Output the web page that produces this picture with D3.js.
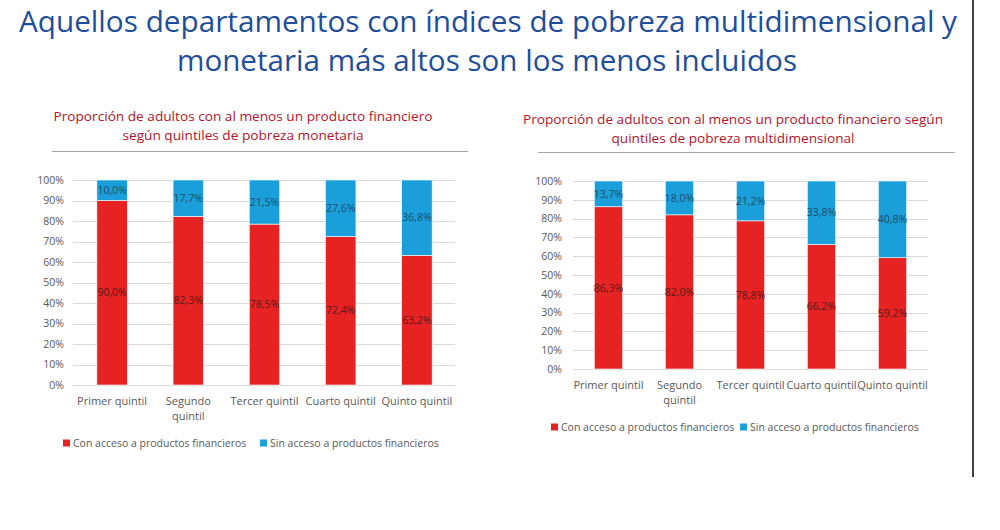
<!DOCTYPE html>
<html>
<head>
<meta charset="utf-8">
<script src="https://cdn.jsdelivr.net/npm/d3@7/dist/d3.min.js"></script>
<style>
  html, body { margin: 0; padding: 0; background: #fff; }
  svg { display: block; }
  text { font-family: "Open Sans", "Noto Sans", sans-serif; }
</style>
</head>
<body>
<svg id="chart" width="1000" height="530"></svg>
<script>
// ---- Data ----
const mainTitle = ["Aquellos departamentos con índices de pobreza multidimensional y",
                   "monetaria más altos son los menos incluidos"];
const titleMonetaria = ["Proporción de adultos con al menos un producto financiero",
                        "según quintiles de pobreza monetaria"];
const titleMulti = ["Proporción de adultos con al menos un producto financiero según",
                    "quintiles de pobreza multidimensional"];
const categories = ["Primer quintil", "Segundo quintil", "Tercer quintil", "Cuarto quintil", "Quinto quintil"];
const seriesNames = ["Con acceso a productos financieros", "Sin acceso a productos financieros"];
const monetariaCon = [90.0, 82.3, 78.5, 72.4, 63.2];
const monetariaSin = [10.0, 17.7, 21.5, 27.6, 36.8];
const multiCon = [86.3, 82.0, 78.8, 66.2, 59.2];
const multiSin = [13.7, 18.0, 21.2, 33.8, 40.8];
const yTicks = [0, 10, 20, 30, 40, 50, 60, 70, 80, 90, 100];

// ---- Style ----
const colors = ["#e62222", "#1b9fdb"];
const svg = d3.select("#chart");

// Main title
svg.append("text").attr("x", 488).attr("y", 32).attr("text-anchor", "middle")
  .attr("font-size", 29).attr("fill", "#1f4e99")
  .attr("textLength", 938).attr("lengthAdjust", "spacingAndGlyphs")
  .text(mainTitle[0]);
svg.append("text").attr("x", 487).attr("y", 71).attr("text-anchor", "middle")
  .attr("font-size", 29).attr("fill", "#1f4e99")
  .attr("textLength", 620).attr("lengthAdjust", "spacingAndGlyphs")
  .text(mainTitle[1]);

// Right vertical rule
svg.append("line").attr("x1", 973).attr("x2", 973).attr("y1", 0).attr("y2", 477)
  .attr("stroke", "#404040").attr("stroke-width", 2);

function drawChart(cfg) {
  const g = svg.append("g");
  // subtitle
  cfg.title.forEach((t, i) => {
    g.append("text").attr("x", cfg.titleX).attr("y", cfg.titleY[i])
      .attr("text-anchor", "middle").attr("font-size", 13.5).attr("fill", "#b0142a")
      .attr("textLength", cfg.titleW[i]).attr("lengthAdjust", "spacingAndGlyphs")
      .text(t);
  });
  g.append("line").attr("x1", cfg.ruleX[0]).attr("x2", cfg.ruleX[1])
    .attr("y1", cfg.ruleY).attr("y2", cfg.ruleY)
    .attr("stroke", "#a6a6a6").attr("stroke-width", 1);

  const x = d3.scaleBand().domain(categories).range(cfg.xRange)
    .paddingInner(0.6).paddingOuter(0.3);
  const y = d3.scaleLinear().domain([0, 100]).range(cfg.yRange);

  // gridlines
  g.append("g").selectAll("line").data(yTicks).join("line")
    .attr("x1", cfg.gridX[0]).attr("x2", cfg.gridX[1])
    .attr("y1", d => Math.round(y(d)) + 0.5).attr("y2", d => Math.round(y(d)) + 0.5)
    .attr("stroke", "#d9d9d9").attr("stroke-width", 1);

  // y axis labels
  const yAxis = d3.axisLeft(y).tickValues(yTicks).tickFormat(d => d + "%").tickSize(0).tickPadding(0);
  const ya = g.append("g").attr("transform", `translate(${cfg.yLabelX},0)`).call(yAxis);
  ya.select(".domain").remove();
  ya.selectAll("text").attr("font-size", 10.5).attr("fill", "#595959")
    .attr("font-family", "'Open Sans', sans-serif");

  // stacked bars
  const stackData = categories.map((c, i) => ({ cat: c, con: cfg.con[i], sin: cfg.sin[i] }));
  const stack = d3.stack().keys(["con", "sin"])(stackData);
  stack.forEach((layer, li) => {
    g.append("g").selectAll("rect").data(layer).join("rect")
      .attr("x", d => x(d.data.cat))
      .attr("width", x.bandwidth())
      .attr("y", d => y(d[1]))
      .attr("height", d => y(d[0]) - y(d[1]))
      .attr("fill", colors[li])
      .attr("stroke", "#ffffff").attr("stroke-width", 0.6);
    g.append("g").selectAll("text").data(layer).join("text")
      .attr("x", d => x(d.data.cat) + x.bandwidth() / 2)
      .attr("y", d => y((d[0] + d[1]) / 2))
      .attr("dy", "0.35em")
      .attr("text-anchor", "middle")
      .attr("font-size", 10.5).attr("fill", li === 0 ? "#5a1a1a" : "#1d4d66")
      .text(d => (d[1] - d[0]).toFixed(1).replace(".", ",") + "%");
  });

  // x labels
  const step = x.step();
  const xl = g.append("g").selectAll("text").data(categories).join("text")
    .attr("x", d => x(d) + x.bandwidth() / 2)
    .attr("y", cfg.xLabelY)
    .attr("text-anchor", "middle").attr("font-size", 11).attr("fill", "#595959")
    .text(d => d);
  xl.each(function (d) {
    const t = d3.select(this);
    if (this.getComputedTextLength() > step) {
      const words = d.split(" ");
      const last = words.pop();
      t.text(null);
      t.append("tspan").attr("x", t.attr("x")).attr("dy", 0).text(words.join(" "));
      t.append("tspan").attr("x", t.attr("x")).attr("dy", 14.5).text(last);
    }
  });

  // legend
  const lg = g.append("g");
  seriesNames.forEach((n, i) => {
    lg.append("rect").attr("x", cfg.legX[i]).attr("y", cfg.legY - 3.5)
      .attr("width", 7).attr("height", 7).attr("fill", colors[i]);
    lg.append("text").attr("x", cfg.legX[i] + 10).attr("y", cfg.legY)
      .attr("dy", "0.35em").attr("font-size", 10.5).attr("fill", "#595959")
      .text(n);
  });
}

drawChart({
  title: titleMonetaria, titleX: 243, titleY: [121, 140], titleW: [379, 241],
  ruleX: [52, 468], ruleY: 151.5,
  xRange: [74, 455], yRange: [385, 180], gridX: [73, 455], yLabelX: 64,
  con: monetariaCon, sin: monetariaSin,
  xLabelY: 405, legX: [63, 260], legY: 443
});
drawChart({
  title: titleMulti, titleX: 733, titleY: [124, 143], titleW: [420, 243],
  ruleX: [538, 955], ruleY: 152.5,
  xRange: [573, 928], yRange: [369, 181], gridX: [573, 928], yLabelX: 562,
  con: multiCon, sin: multiSin,
  xLabelY: 389, legX: [551, 740], legY: 427
});
</script>
</body>
</html>
